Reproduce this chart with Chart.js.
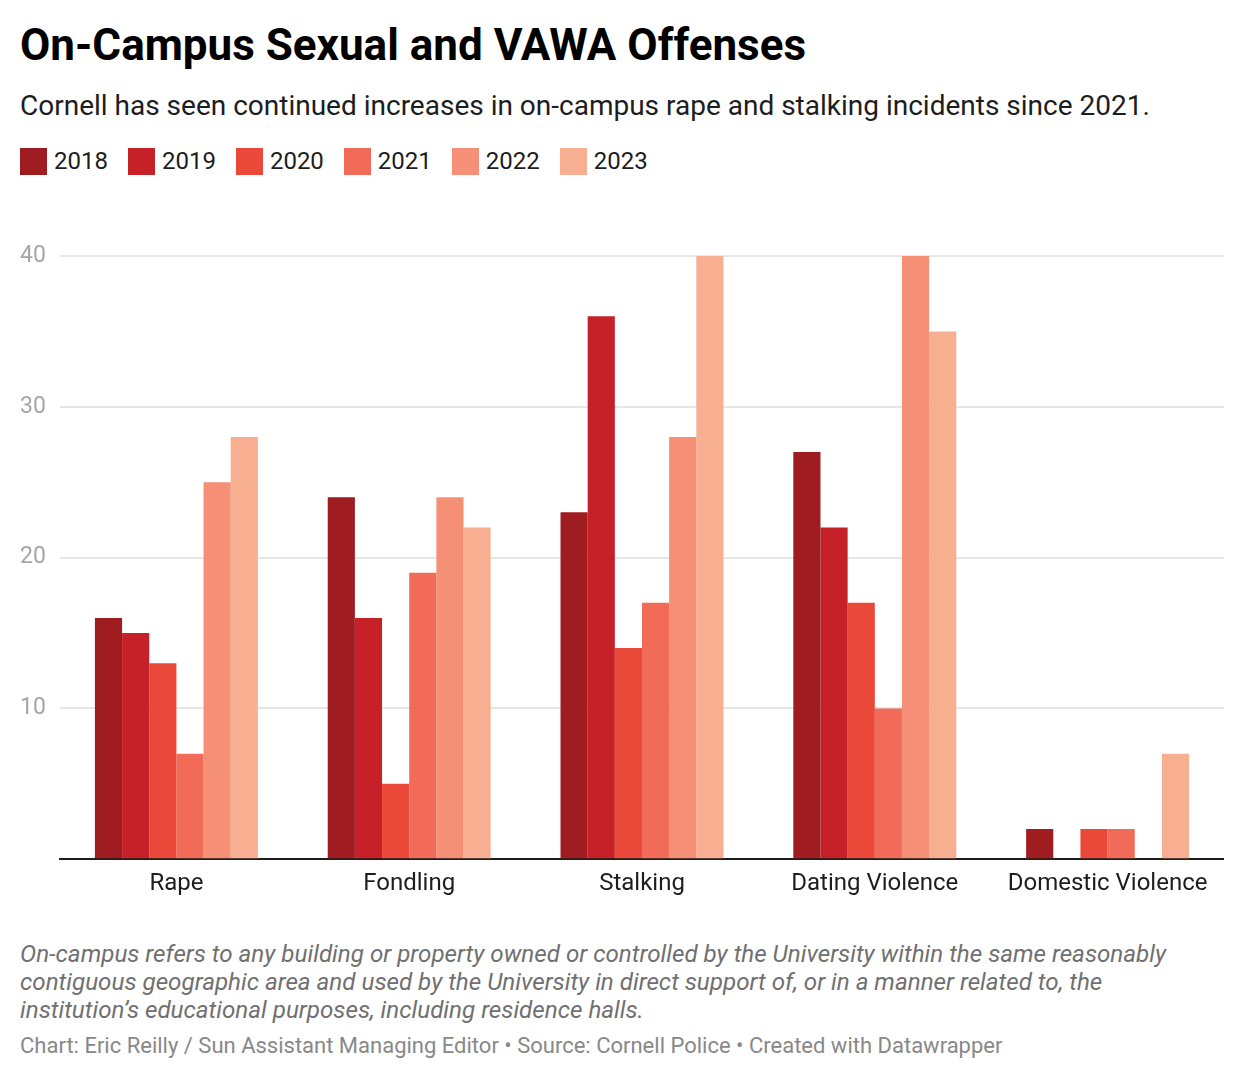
<!DOCTYPE html>
<html>
<head>
<meta charset="utf-8">
<script src="https://cdn.jsdelivr.net/npm/chart.js@4"></script>
<style>
  body { margin: 0; background: #fff; font-family: Roboto, "Noto Sans", sans-serif; }
  #page { position: relative; width: 1244px; height: 1082px; overflow: hidden; }
  .abs { position: absolute; left: 20px; white-space: nowrap; }
  #title { top: 18px; font-size: 44px; line-height: 54px; font-weight: 700; color: #000; }
  #subtitle { top: 89px; font-size: 28px; line-height: 34px; color: #1d1d1d; }
  #legend { top: 146px; height: 30px; display: flex; align-items: center; font-size: 24px; color: #1d1d1d; }
  .item { display: flex; align-items: center; margin-right: 20px; }
  .box { width: 27px; height: 27px; margin-right: 7px; }
  #wrap { position: absolute; left: 20px; top: 221px; width: 1204px; height: 687px; }
  #notes { top: 940px; font-size: 24.2px; line-height: 28px; font-style: italic; color: #707070; }
  #source { top: 1033px; font-size: 22px; line-height: 26px; color: #888; }
</style>
</head>
<body>
<div id="page">
  <div id="title" class="abs">On-Campus Sexual and VAWA Offenses</div>
  <div id="subtitle" class="abs">Cornell has seen continued increases in on-campus rape and stalking incidents since 2021.</div>
  <div id="legend" class="abs"></div>
  <div id="wrap"><canvas id="myChart"></canvas></div>
  <div id="notes" class="abs">On-campus refers to any building or property owned or controlled by the University within the same reasonably<br>contiguous geographic area and used by the University in direct support of, or in a manner related to, the<br>institution’s educational purposes, including residence halls.</div>
  <div id="source" class="abs">Chart: Eric Reilly / Sun Assistant Managing Editor • Source: Cornell Police • Created with Datawrapper</div>
</div>
<script>
// 資料
const categories = ['Rape', 'Fondling', 'Stalking', 'Dating Violence', 'Domestic Violence'];
const years = ['2018', '2019', '2020', '2021', '2022', '2023'];
const values2018 = [16, 24, 23, 27, 2];
const values2019 = [15, 16, 36, 22, 0];
const values2020 = [13, 5, 14, 17, 2];
const values2021 = [7, 19, 17, 10, 2];
const values2022 = [25, 24, 28, 40, 0];
const values2023 = [28, 22, 40, 35, 7];
const yTicks = [10, 20, 30, 40];

// 樣式
const colors = ['#9f1c20', '#c62128', '#ea4839', '#f26b59', '#f58f76', '#f8ae91'];

const seriesValues = [values2018, values2019, values2020, values2021, values2022, values2023];

// legend (html)
const legendEl = document.getElementById('legend');
years.forEach((y, i) => {
    const item = document.createElement('div');
    item.className = 'item';
    item.innerHTML = '<div class="box" style="background:' + colors[i] + '"></div>' + y;
    legendEl.appendChild(item);
});

Chart.defaults.font.family = 'Roboto';

const data = {
    labels: categories,
    datasets: years.map((y, i) => ({
        label: y,
        data: seriesValues[i],
        backgroundColor: colors[i],
        borderWidth: 0,
        barPercentage: 1.0,
        categoryPercentage: 0.7,
    }))
};

const config = {
    type: 'bar',
    data: data,
    options: {
        responsive: true,
        maintainAspectRatio: false,
        animation: false,
        devicePixelRatio: 1,
        layout: { padding: { top: 35, bottom: 0, left: 0, right: 0 } },
        plugins: {
            legend: { display: false },
            tooltip: { enabled: false },
        },
        scales: {
            x: {
                grid: { display: false, drawTicks: false },
                border: { display: true, color: '#1d1d1d', width: 2 },
                ticks: {
                    color: '#1d1d1d',
                    font: { size: 24 },
                    padding: 10,
                    maxRotation: 0,
                },
            },
            y: {
                min: 0,
                max: 40,
                afterFit: (scale) => { scale.width = 40; },
                afterBuildTicks: (scale) => {
                    scale.ticks = [0].concat(yTicks).map(v => ({ value: v }));
                },
                grid: {
                    color: (ctx) => ctx.tick && ctx.tick.value === 0 ? 'rgba(0,0,0,0)' : '#e6e6e6',
                    lineWidth: 2,
                    drawTicks: false,
                },
                border: { display: false },
                ticks: {
                    color: '#a6a6a6',
                    font: { size: 23 },
                    padding: 0,
                    crossAlign: 'far',
                    callback: (v) => v === 0 ? '' : v,
                },
            },
        },
    }
};

var ctx = document.getElementById('myChart').getContext('2d');
var myChart = new Chart(ctx, config);
</script>
</body>
</html>
